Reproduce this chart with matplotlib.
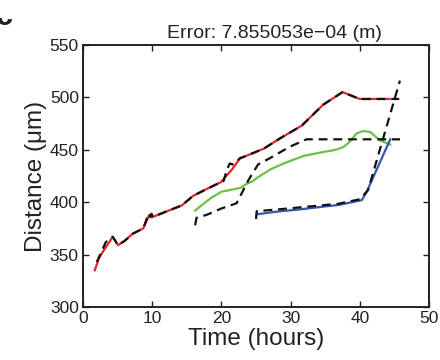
import matplotlib
matplotlib.use("Agg")
import matplotlib.pyplot as plt
from matplotlib.patches import Rectangle

plt.rcParams['font.family'] = ['Liberation Sans', 'DejaVu Sans']

# Red track and its dashed reference
red_t = [1.7, 2.3, 2.9, 4.3, 5.05, 6.0, 7.2, 8.7, 9.6, 9.9, 12.0, 14.3, 15.9, 18.0, 19.9, 21.5, 22.7, 23.5, 26.1, 28.5, 31.6, 34.7, 37.5, 40.0, 44.3]
red_d = [335, 346.5, 353, 367, 359, 363, 370, 375, 388, 385.5, 391, 397, 406, 413, 419, 431, 442, 444, 451, 461, 473, 493, 505, 498.5, 498.5]
blk1_t = [2.0, 3.3, 4.3, 5.05, 6.0, 7.2, 8.7, 9.2, 9.4, 9.7, 9.9, 10.1, 12.0, 14.3, 15.9, 18.0, 19.9, 20.3, 20.8, 21.2, 21.6, 22.7, 23.5, 26.1, 28.5, 31.6, 34.7, 37.5, 40.0, 45.7]
blk1_d = [343, 362, 367, 359, 363, 370, 375, 384, 389, 386, 389, 386, 391, 397, 406, 413, 419, 420, 431, 437, 436, 442, 444, 451, 461, 473, 493, 505, 498.5, 498.5]

# Green track and its dashed reference
grn_t = [16.2, 17.5, 18.5, 20.0, 21.5, 22.9, 23.5, 24.5, 25.1, 27.0, 29.0, 31.8, 34.0, 36.5, 37.6, 38.6, 39.5, 40.5, 41.5, 42.9, 44.4]
grn_d = [392, 399, 404, 410, 412, 414, 417, 420, 423, 431, 437, 444, 447, 450, 452.5, 458, 465.5, 468, 467, 459, 455]
blk2_t = [16.2, 16.4, 17.9, 20.0, 22.2, 23.9, 25.3, 27.0, 29.9, 32.3, 45.8]
blk2_d = [378, 385, 388, 394, 399, 421, 436, 442, 453, 460, 460]

# Blue track and its dashed reference
blu_t = [25.2, 28.0, 31.4, 35.0, 36.9, 40.3, 41.0, 44.4]
blu_d = [388.5, 391, 393.2, 396, 397.3, 402, 410, 460]
blk3_t = [25.0, 25.1, 28.0, 32.0, 36.9, 40.0, 41.2, 45.8]
blk3_d = [384, 391.5, 393, 395.5, 398.5, 402.8, 411.6, 516]

title_text = "Error: 7.855053e\u221204 (m)"
xticks = [0, 10, 20, 30, 40, 50]
yticks = [300, 350, 400, 450, 500, 550]

fig = plt.figure(figsize=(4.4, 3.6), dpi=100)
ax = fig.add_axes([83/440, 1-307/360, (429-83)/440, (307-45)/360])

lw = 1.6
ax.plot(red_t, red_d, color='#e8232b', lw=lw, zorder=2)
ax.plot(grn_t, grn_d, color='#6cc04a', lw=lw, zorder=2)
ax.plot(blu_t, blu_d, color='#3556b0', lw=lw, zorder=2)
for t, d in [(blk1_t, blk1_d), (blk2_t, blk2_d), (blk3_t, blk3_d)]:
    ax.plot(t, d, color='#111111', lw=lw, ls=(0, (4.0, 2.6)), zorder=3)

ax.set_xlim(0, 50)
ax.set_ylim(300, 550)
ax.set_xticks(xticks)
ax.set_yticks(yticks)
ax.tick_params(direction='in', top=True, right=True, length=4, width=1.0,
               labelsize=12.5, colors='#222222', pad=3)
for s in ax.spines.values():
    s.set_linewidth(1.4)
    s.set_color('#222222')

ax.set_xlabel("Time (hours)", fontsize=17.5, color='#222222', labelpad=1)
ax.set_ylabel("Distance (\u03bcm)", fontsize=17.5, color='#222222', labelpad=2)
ax.set_title(title_text, fontsize=14, color='#222222', x=0.552, pad=5)

# panel label: only its lower stroke is visible in the reference
lab = fig.text(-4/440, 1-25/360, 'c', fontsize=22, fontweight='bold', color='#222222',
               ha='left', va='baseline')
clip = Rectangle((0, 1-28/360), 30/440, 10/360, transform=fig.transFigure)
lab.set_clip_path(clip)
lab.set_clip_on(True)

fig.savefig("out.png", dpi=100)
